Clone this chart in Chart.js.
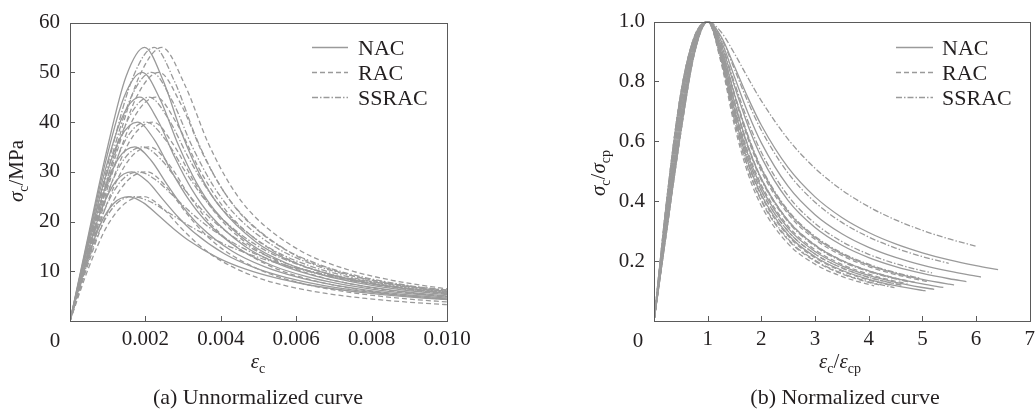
<!DOCTYPE html>
<html><head><meta charset="utf-8">
<script src="https://cdn.jsdelivr.net/npm/chart.js@4.4.0/dist/chart.umd.min.js"></script>
<style>
html,body{margin:0;padding:0;width:1035px;height:411px;overflow:hidden;background:#fff;}
.pane{position:absolute;top:0;height:411px;}
#pa{left:0;width:517px;}
#pb{left:517px;width:524px;}
</style></head><body>
<div class="pane" id="pa"><canvas id="ca"></canvas></div>
<div class="pane" id="pb"><canvas id="cb"></canvas></div>
<script>
// ---------------- data ----------------
const seriesNames = ['NAC', 'RAC', 'SSRAC'];
const peakStress = [25, 30, 35, 40, 45, 50, 55];                 // MPa
const peakStrainNAC   = [0.00156, 0.001642, 0.001718, 0.001788, 0.001854, 0.001916, 0.001976];
const peakStrainRAC   = [0.00196, 0.00204, 0.00212, 0.00220, 0.00228, 0.00236, 0.00244];
const peakStrainSSRAC = [0.00167, 0.00182, 0.00193, 0.00202, 0.00210, 0.00217, 0.00223];

// normalized ascending branch (eps/eps_p vs sigma/sigma_p), one row per strength level
const ascentX = [0, 0.25, 0.5, 0.75, 1];
const ascentY = [
  [0, 0.4243, 0.7611, 0.9487, 1],
  [0, 0.4030, 0.7402, 0.9418, 1],
  [0, 0.3824, 0.7180, 0.9338, 1],
  [0, 0.3613, 0.6925, 0.9235, 1],
  [0, 0.3441, 0.6695, 0.9130, 1],
  [0, 0.3301, 0.6488, 0.9023, 1],
  [0, 0.3187, 0.6307, 0.8918, 1]
];
// normalized descending branch
const descentX = [1.25, 1.5, 1.75, 2, 2.5, 3, 3.5, 4, 4.5, 5, 5.5, 6];
const descNAC = [
  [0.9497,0.8500,0.7461,0.6538,0.5120,0.4146,0.3459,0.2956,0.2575,0.2279,0.2041,0.1848],
  [0.9362,0.8150,0.6955,0.5949,0.4493,0.3551,0.2914,0.2460,0.2124,0.1866,0.1663,0.1498],
  [0.9236,0.7839,0.6529,0.5473,0.4018,0.3120,0.2529,0.2118,0.1817,0.1589,0.1411],
  [0.9117,0.7559,0.6163,0.5080,0.3645,0.2791,0.2243,0.1866,0.1594,0.1389,0.1230],
  [0.9004,0.7306,0.5844,0.4748,0.3344,0.2532,0.2020,0.1673,0.1424,0.1238],
  [0.8897,0.7075,0.5564,0.4464,0.3094,0.2322,0.1842,0.1520,0.1290,0.1119],
  [0.8794,0.6862,0.5313,0.4216,0.2882,0.2147,0.1695,0.1394,0.1181,0.1022]
];
const endXNAC = [6.41, 6.09, 5.82, 5.59, 5.39, 5.22, 5.06];
const endYNAC = [0.1713, 0.1470, 0.1316, 0.1205, 0.1122, 0.1057, 0.1006];

const descRAC = [
  [0.9091,0.7500,0.6087,0.5000,0.3571,0.2727,0.2188,0.1818,0.1552,0.1351],
  [0.9009,0.7317,0.5858,0.4762,0.3356,0.2542,0.2029,0.1681,0.1431],
  [0.8929,0.7143,0.5645,0.4545,0.3165,0.2381,0.1892,0.1563,0.1327],
  [0.8850,0.6977,0.5447,0.4348,0.2994,0.2239,0.1772,0.1460,0.1238],
  [0.8772,0.6818,0.5263,0.4167,0.2841,0.2113,0.1667,0.1370],
  [0.8696,0.6667,0.5091,0.4000,0.2703,0.2000,0.1573,0.1290],
  [0.8621,0.6522,0.4930,0.3846,0.2577,0.1899,0.1489,0.1220]
];
const endXRAC = [5.10, 4.90, 4.72, 4.55, 4.39, 4.24, 4.10];
const endYRAC = [0.1317, 0.1277, 0.1244, 0.1219, 0.1201, 0.1187, 0.1176];

const descSSRAC = [
  [0.9653,0.8929,0.8121,0.7353,0.6068,0.5102,0.4375,0.3817,0.3378,0.3027,0.2739],
  [0.9460,0.8403,0.7318,0.6369,0.4936,0.3968,0.3294,0.2805,0.2437,0.2151],
  [0.9281,0.7947,0.6675,0.5634,0.4175,0.3261,0.2654,0.2228,0.1916,0.1678],
  [0.9132,0.7595,0.6208,0.5128,0.3690,0.2830,0.2276,0.1896,0.1620],
  [0.8989,0.7273,0.5803,0.4706,0.3306,0.2500,0.1993,0.1649,0.1404],
  [0.8850,0.6977,0.5447,0.4348,0.2994,0.2239,0.1772,0.1460,0.1238],
  [0.8715,0.6704,0.5133,0.4040,0.2736,0.2027,0.1595,0.1309]
];
const endXSSRAC = [5.99, 5.49, 5.18, 4.95, 4.76, 4.61, 4.48];
const endYSSRAC = [0.2504, 0.1928, 0.1606, 0.1431, 0.1302, 0.1198, 0.1114];

const xTicksA = [0, 0.002, 0.004, 0.006, 0.008, 0.010];
const yTicksA = [0, 10, 20, 30, 40, 50, 60];
const xTicksB = [0, 1, 2, 3, 4, 5, 6, 7];
const yTicksB = [0, 0.2, 0.4, 0.6, 0.8, 1.0];

// ---------------- styles ----------------
const SERIF = "'Liberation Serif','Times New Roman',serif";
const TEXT = '#231f20';
const FRAME = '#5a5a5a';
const CURVE = '#9a9a9a';
const DASHES = [[], [5, 3], [6, 2, 1.5, 2]];

const types = [
  {strain: peakStrainNAC, desc: descNAC, ex: endXNAC, ey: endYNAC},
  {strain: peakStrainRAC, desc: descRAC, ex: endXRAC, ey: endYRAC},
  {strain: peakStrainSSRAC, desc: descSSRAC, ex: endXSSRAC, ey: endYSSRAC}
];

function normPoints(t, i) {
  const pts = ascentX.map((x, k) => ({x: x, y: ascentY[i][k]}));
  t.desc[i].forEach((y, k) => pts.push({x: descentX[k], y: y}));
  pts.push({x: t.ex[i], y: t.ey[i]});
  return pts;
}

const dsA = [], dsB = [];
types.forEach((t, ti) => {
  peakStress.forEach((fp, i) => {
    const nb = normPoints(t, i);
    const common = {borderColor: CURVE, borderWidth: 1.3, borderDash: DASHES[ti], pointRadius: 0,
                    cubicInterpolationMode: 'monotone', fill: false};
    dsB.push(Object.assign({label: seriesNames[ti] + ' ' + fp, data: nb}, common));
    dsA.push(Object.assign({label: seriesNames[ti] + ' ' + fp,
      data: nb.map(p => ({x: p.x * t.strain[i], y: p.y * fp}))}, common));
  });
});

// ---------------- drawing helpers ----------------
function fontOf(r) { return (r.it ? 'italic ' : '') + (r.sub ? 14 : 21) + 'px ' + SERIF; }
function drawRuns(ctx, runs, x, y, rotate) {
  ctx.save();
  ctx.translate(x, y);
  if (rotate) ctx.rotate(-Math.PI / 2);
  let w = 0;
  const ws = runs.map(r => { ctx.font = fontOf(r); const m = ctx.measureText(r.t).width; w += m; return m; });
  let cx = -w / 2;
  ctx.textBaseline = 'alphabetic'; ctx.textAlign = 'left'; ctx.fillStyle = TEXT;
  runs.forEach((r, i) => { ctx.font = fontOf(r); ctx.fillText(r.t, cx, r.sub ? 5 : 0); cx += ws[i]; });
  ctx.restore();
}

function decor(cfg) {
  return {
    id: 'decor',
    afterDraw(chart) {
      const ctx = chart.ctx, a = chart.chartArea, xs = chart.scales.x, ys = chart.scales.y;
      ctx.save();
      ctx.strokeStyle = FRAME; ctx.lineWidth = 1; ctx.setLineDash([]);
      ctx.strokeRect(Math.round(a.left) + 0.5, Math.round(a.top) + 0.5,
                     Math.round(a.right - a.left), Math.round(a.bottom - a.top));
      ctx.beginPath();
      xs.ticks.forEach(t => {
        if (t.value <= xs.min + 1e-12 || t.value >= xs.max - 1e-12) return;
        const p = Math.round(xs.getPixelForValue(t.value)) + 0.5;
        ctx.moveTo(p, a.bottom); ctx.lineTo(p, a.bottom - 5);
      });
      ys.ticks.forEach(t => {
        if (t.value <= ys.min + 1e-12 || t.value >= ys.max - 1e-12) return;
        const p = Math.round(ys.getPixelForValue(t.value)) + 0.5;
        ctx.moveTo(a.left, p); ctx.lineTo(a.left + 5, p);
      });
      ctx.stroke();
      // origin label
      ctx.font = '21px ' + SERIF; ctx.fillStyle = TEXT; ctx.textAlign = 'center'; ctx.textBaseline = 'alphabetic';
      ctx.fillText('0', cfg.zeroX, 347);
      // legend
      seriesNames.forEach((name, i) => {
        const y = Math.round(46.7 + 25 * i) + 0.5;
        ctx.strokeStyle = CURVE; ctx.lineWidth = 1.3; ctx.setLineDash(DASHES[i]);
        ctx.beginPath(); ctx.moveTo(cfg.legX0, y); ctx.lineTo(cfg.legX1, y); ctx.stroke();
        ctx.setLineDash([]);
        ctx.font = '22px ' + SERIF; ctx.fillStyle = TEXT; ctx.textAlign = 'left';
        ctx.fillText(name, cfg.legTX, y + 7);
      });
      // axis titles
      drawRuns(ctx, cfg.xTitle, cfg.xTitleX, 368, false);
      drawRuns(ctx, cfg.yTitle, cfg.yTitleX, cfg.yTitleY, true);
      // caption
      ctx.font = '22px ' + SERIF; ctx.fillStyle = TEXT; ctx.textAlign = 'center'; ctx.textBaseline = 'alphabetic';
      ctx.fillText(cfg.caption, cfg.captionX, 404);
      ctx.restore();
    }
  };
}

function makeChart(id, datasets, sc, pad, cfg) {
  const tickFont = {family: SERIF, size: 21};
  return new Chart(document.getElementById(id), {
    type: 'line',
    data: {datasets: datasets},
    options: {
      animation: false, responsive: true, maintainAspectRatio: false,
      layout: {padding: pad},
      plugins: {legend: {display: false}, tooltip: {enabled: false}, title: {display: false}},
      scales: {
        x: {type: 'linear', min: sc.xTicks[0], max: sc.xTicks[sc.xTicks.length - 1],
            afterBuildTicks: s => { s.ticks = sc.xTicks.map(v => ({value: v})); },
            ticks: {stepSize: sc.xTicks[1] - sc.xTicks[0], padding: 6, color: TEXT, font: tickFont,
                    maxRotation: 0, autoSkip: false, callback: v => v === 0 ? '' : sc.xFmt(v)},
            grid: {display: false, drawTicks: false}, border: {display: false},
            afterFit: s => { s.height = 90; }},
        y: {type: 'linear', min: sc.yTicks[0], max: sc.yTicks[sc.yTicks.length - 1],
            afterBuildTicks: s => { s.ticks = sc.yTicks.map(v => ({value: v})); },
            ticks: {stepSize: sc.yTicks[1] - sc.yTicks[0], padding: sc.yPad, color: TEXT, font: tickFont,
                    autoSkip: false, callback: v => v === 0 ? '' : sc.yFmt(v)},
            grid: {display: false, drawTicks: false}, border: {display: false},
            afterFit: s => { s.width = sc.yWidth; }}
      }
    },
    plugins: [decor(cfg)]
  });
}

makeChart('ca', dsA,
  {xTicks: xTicksA, yTicks: yTicksA, xFmt: v => v.toFixed(3), yFmt: v => String(v), yWidth: 70, yPad: 10},
  {top: 20, right: 70, bottom: 0, left: 0},
  {zeroX: 55, legX0: 312, legX1: 348, legTX: 358,
   xTitle: [{t: 'ε', it: true}, {t: 'c', sub: true}], xTitleX: 258,
   yTitle: [{t: 'σ', it: true}, {t: 'c', sub: true}, {t: '/MPa'}], yTitleX: 23, yTitleY: 171,
   caption: '(a) Unnormalized curve', captionX: 258});

makeChart('cb', dsB,
  {xTicks: xTicksB, yTicks: yTicksB, xFmt: v => String(v), yFmt: v => v.toFixed(1), yWidth: 137, yPad: 9},
  {top: 20, right: 10, bottom: 0, left: 0},
  {zeroX: 121, legX0: 379, legX1: 416, legTX: 425,
   xTitle: [{t: 'ε', it: true}, {t: 'c', sub: true}, {t: '/'}, {t: 'ε', it: true}, {t: 'cp', sub: true}], xTitleX: 323,
   yTitle: [{t: 'σ', it: true}, {t: 'c', sub: true}, {t: '/'}, {t: 'σ', it: true}, {t: 'cp', sub: true}], yTitleX: 88, yTitleY: 173,
   caption: '(b) Normalized curve', captionX: 328});
</script></body></html>
